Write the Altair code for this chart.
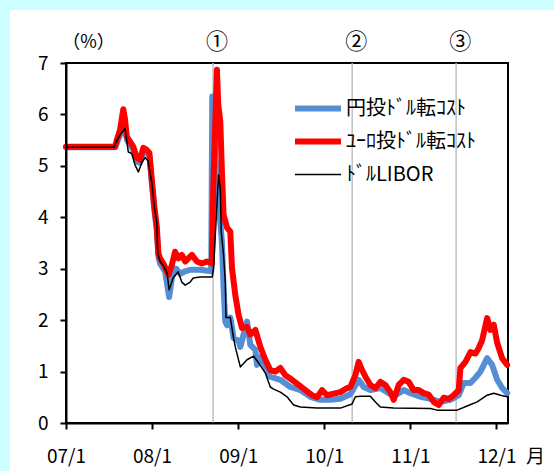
import altair as alt
import pandas as pd

# ---- data (decimal year, percent) ----
yen_t = [2007.000, 2007.570, 2007.593, 2007.628, 2007.666, 2007.686, 2007.709, 2007.744, 2007.783,
         2007.822, 2007.860, 2007.899, 2007.938, 2007.969, 2007.997, 2008.027, 2008.055, 2008.073,
         2008.093, 2008.151, 2008.198, 2008.233, 2008.279, 2008.326, 2008.384, 2008.442, 2008.558,
         2008.686, 2008.698, 2008.733, 2008.764, 2008.791, 2008.810, 2008.829, 2008.849, 2008.869,
         2008.907, 2008.945, 2009.003, 2009.023, 2009.101, 2009.140, 2009.198, 2009.217, 2009.256,
         2009.314, 2009.372, 2009.488, 2009.605, 2009.721, 2009.837, 2009.953, 2010.070, 2010.186,
         2010.302, 2010.399, 2010.457, 2010.535, 2010.651, 2010.767, 2010.826, 2010.922, 2011.000,
         2011.116, 2011.233, 2011.349, 2011.465, 2011.562, 2011.620, 2011.698, 2011.756, 2011.814,
         2011.853, 2011.892, 2011.950, 2012.008, 2012.066, 2012.124]
yen_v = [5.36, 5.36, 5.45, 5.60, 5.90, 5.75, 5.50, 5.42, 5.30,
         5.08, 5.06, 5.28, 5.25, 5.20, 4.68, 4.15, 3.75, 3.25,
         3.10, 2.95, 2.45, 2.85, 3.00, 2.90, 2.95, 2.98, 2.98,
         2.95, 6.35, 5.20, 4.44, 3.90, 3.52, 2.63, 1.97, 1.90,
         2.05, 1.65, 1.60, 1.48, 1.97, 1.52, 1.42, 1.13, 1.28,
         1.10, 0.90, 0.84, 0.70, 0.64, 0.51, 0.45, 0.45, 0.47,
         0.56, 0.84, 0.70, 0.64, 0.68, 0.56, 0.54, 0.64, 0.58,
         0.51, 0.47, 0.41, 0.45, 0.54, 0.78, 0.78, 0.88, 1.00,
         1.13, 1.26, 1.13, 0.84, 0.68, 0.58]

eur_t = [2007.000, 2007.570, 2007.590, 2007.628, 2007.666, 2007.686, 2007.706, 2007.744, 2007.783,
         2007.822, 2007.860, 2007.899, 2007.938, 2007.969, 2007.997, 2008.027, 2008.055, 2008.073,
         2008.093, 2008.131, 2008.190, 2008.229, 2008.267, 2008.306, 2008.345, 2008.384, 2008.462,
         2008.520, 2008.578, 2008.636, 2008.694, 2008.709, 2008.752, 2008.767, 2008.791, 2008.810,
         2008.829, 2008.869, 2008.907, 2008.927, 2008.965, 2009.003, 2009.043, 2009.101, 2009.140,
         2009.198, 2009.256, 2009.314, 2009.372, 2009.430, 2009.488, 2009.547, 2009.624, 2009.701,
         2009.779, 2009.857, 2009.915, 2009.973, 2010.031, 2010.108, 2010.186, 2010.264, 2010.302,
         2010.360, 2010.399, 2010.438, 2010.477, 2010.535, 2010.593, 2010.651, 2010.709, 2010.767,
         2010.806, 2010.864, 2010.922, 2010.980, 2011.038, 2011.097, 2011.155, 2011.213, 2011.271,
         2011.329, 2011.387, 2011.445, 2011.503, 2011.562, 2011.581, 2011.640, 2011.698, 2011.756,
         2011.794, 2011.834, 2011.892, 2011.930, 2011.969, 2012.008, 2012.066, 2012.124]
eur_v = [5.37, 5.37, 5.50, 5.70, 6.10, 5.90, 5.57, 5.47, 5.37,
         5.16, 5.12, 5.35, 5.31, 5.25, 4.73, 4.20, 3.81, 3.30,
         3.20, 3.10, 2.88, 3.07, 3.33, 3.20, 3.27, 3.14, 3.27,
         3.14, 3.10, 3.14, 3.10, 4.50, 6.87, 6.20, 5.86, 4.88,
         4.05, 3.80, 3.72, 3.00, 2.49, 2.10, 1.85, 1.87, 1.72,
         1.81, 1.48, 1.23, 1.03, 1.00, 1.07, 0.93, 0.84, 0.74,
         0.64, 0.54, 0.50, 0.64, 0.54, 0.57, 0.60, 0.68, 0.70,
         0.93, 1.19, 1.03, 0.90, 0.74, 0.68, 0.80, 0.74, 0.60,
         0.45, 0.74, 0.84, 0.80, 0.64, 0.64, 0.58, 0.55, 0.41,
         0.35, 0.49, 0.47, 0.54, 0.64, 1.07, 1.19, 1.38, 1.35,
         1.46, 1.61, 2.04, 1.81, 1.91, 1.56, 1.26, 1.13]

libor_t = [2007.000, 2007.558, 2007.593, 2007.628, 2007.686, 2007.724, 2007.764, 2007.802, 2007.841,
           2007.880, 2007.919, 2007.953, 2007.997, 2008.027, 2008.055, 2008.066, 2008.093, 2008.128,
           2008.174, 2008.198, 2008.244, 2008.302, 2008.345, 2008.384, 2008.442, 2008.477, 2008.558,
           2008.698, 2008.713, 2008.741, 2008.756, 2008.771, 2008.791, 2008.802, 2008.829, 2008.849,
           2008.857, 2008.907, 2008.945, 2008.965, 2009.023, 2009.101, 2009.178, 2009.236, 2009.314,
           2009.372, 2009.410, 2009.488, 2009.566, 2009.643, 2009.721, 2009.915, 2010.186, 2010.322,
           2010.360, 2010.419, 2010.535, 2010.593, 2010.651, 2010.806, 2011.233, 2011.310, 2011.543,
           2011.659, 2011.776, 2011.892, 2011.969, 2012.047, 2012.124]
libor_v = [5.36, 5.36, 5.50, 5.60, 5.73, 5.27, 5.24, 5.02, 4.88,
           5.06, 5.16, 5.10, 4.67, 4.20, 3.89, 3.30, 3.14, 3.07,
           2.92, 2.59, 2.82, 2.94, 2.74, 2.68, 2.74, 2.82, 2.84,
           2.84, 3.02, 3.90, 4.37, 4.82, 4.57, 3.72, 3.27, 2.74,
           2.05, 2.05, 1.65, 1.48, 1.09, 1.23, 1.30, 1.17, 0.97,
           0.70, 0.66, 0.60, 0.51, 0.35, 0.31, 0.29, 0.29, 0.37,
           0.51, 0.52, 0.52, 0.41, 0.31, 0.29, 0.28, 0.25, 0.25,
           0.33, 0.41, 0.54, 0.58, 0.54, 0.51]

series_names = ["円投ﾄﾞﾙ転ｺｽﾄ", "ﾕｰﾛ投ﾄﾞﾙ転ｺｽﾄ", "ﾄﾞﾙLIBOR"]
series_colors = ["#558ED5", "#FF0000", "#000000"]
series_widths = [6, 6, 1.5]

event_dates = ["2008-09-16T00:00:00", "2010-04-29T00:00:00", "2011-07-14T00:00:00"]
event_labels = ["①", "②", "③"]

year_ticks = [2007, 2008, 2009, 2010, 2011, 2012]
y_ticks = [0, 1, 2, 3, 4, 5, 6, 7]

FONT = "Noto Sans CJK JP"


def to_ts(t):
    y = int(t)
    start = pd.Timestamp(year=y, month=1, day=1)
    end = pd.Timestamp(year=y + 1, month=1, day=1)
    return (start + (end - start) * (t - y)).strftime("%Y-%m-%dT%H:%M:%S")


rows = []
for name, ts, vs in zip(series_names, [yen_t, eur_t, libor_t], [yen_v, eur_v, libor_v]):
    for t, v in zip(ts, vs):
        rows.append({"series": name, "date": to_ts(t), "value": v})
df = pd.DataFrame(rows)

events = pd.DataFrame({"date": event_dates, "label": event_labels})

W, H = 442, 360

x_scale = alt.Scale(domain=["2007-01-01T00:00:00", "2012-02-19T00:00:00"], nice=False)
y_scale = alt.Scale(domain=[0, 7], nice=False)

x_axis = alt.Axis(
    values=[alt.DateTime(year=y, month=1, date=1) for y in year_ticks],
    format="%y/%-m", title="月", titleX=469, titleY=33, titleAngle=0,
    titleAlign="center", titleBaseline="middle", titleFont=FONT, titleFontSize=19,
    titleFontWeight="normal", titleColor="black",
    labelFont=FONT, labelFontSize=19, labelColor="black", labelPadding=18,
    tickSize=6, tickWidth=2, tickColor="black", domainColor="black", domainWidth=2,
    grid=False, zindex=1, labelFlush=False, labelOverlap=False,
)
y_axis = alt.Axis(
    values=y_ticks, title="（%）", titleX=22, titleY=-21, titleAngle=0,
    titleAlign="center", titleBaseline="middle", titleFont=FONT, titleFontSize=18,
    titleFontWeight="normal", titleColor="black",
    labelFont=FONT, labelFontSize=19, labelColor="black", labelPadding=12,
    tickSize=6, tickWidth=2, tickColor="black", domainColor="black", domainWidth=2,
    grid=False, zindex=1,
)

panel_df = pd.DataFrame({"k": [0]})
panel = alt.Chart(panel_df).mark_rect(fill="white").encode(
    x=alt.value(-56), x2=alt.value(W + 46), y=alt.value(-53), y2=alt.value(H + 48)
)
border = alt.Chart(panel_df).mark_rect(fillOpacity=0, stroke="black", strokeWidth=2).encode(
    x=alt.value(0), x2=alt.value(W), y=alt.value(0), y2=alt.value(H)
)

rules = alt.Chart(events).mark_rule(color="#C0C0C0", strokeWidth=1.5).encode(
    x=alt.X("date:T", scale=x_scale, axis=x_axis)
)
nums = alt.Chart(events).mark_text(font=FONT, fontSize=22, color="black", dx=4).encode(
    x=alt.X("date:T", scale=x_scale), y=alt.value(-21), text="label:N"
)

color_scale = alt.Scale(domain=series_names, range=series_colors)
width_scale = alt.Scale(type="ordinal", domain=series_names, range=series_widths)

legend = alt.Legend(
    title=None, orient="none", legendX=226, legendY=29, symbolType="stroke",
    symbolSize=2116, labelFont=FONT, labelFontSize=20, labelColor="black",
    labelLimit=0, labelOffset=2, rowPadding=0, clipHeight=33, padding=0,
)


def series_layer(name):
    return alt.Chart(df).transform_filter(alt.datum.series == name).mark_line(
        strokeJoin="round", strokeCap="round"
    ).encode(
        x=alt.X("date:T", scale=x_scale, axis=x_axis),
        y=alt.Y("value:Q", scale=y_scale, axis=y_axis),
        color=alt.Color("series:N", scale=color_scale, legend=legend, sort=series_names),
        strokeWidth=alt.StrokeWidth("series:N", scale=width_scale, legend=legend, sort=series_names),
    )


chart = alt.layer(
    panel, border, rules,
    series_layer(series_names[0]), series_layer(series_names[1]), series_layer(series_names[2]),
    nums,
).properties(
    width=W, height=H,
    autosize=alt.AutoSizeParams(type="none"),
    padding={"left": 66, "top": 63, "right": 46, "bottom": 48},
    background="#CCFFFF",
).configure_view(stroke=None)

chart.save("out.html", embed_options={"renderer": "svg", "actions": False})
